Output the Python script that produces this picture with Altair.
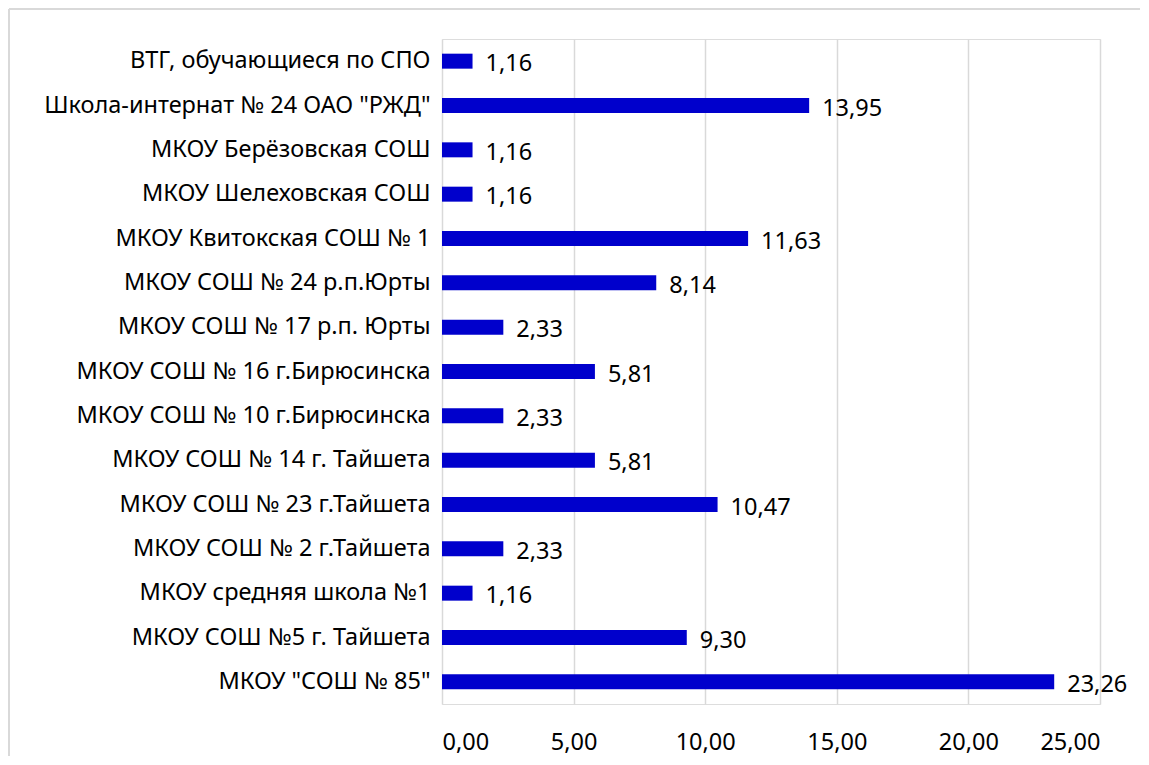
import altair as alt
import pandas as pd

schools = [
    "ВТГ, обучающиеся по СПО",
    "Школа-интернат № 24 ОАО \"РЖД\"",
    "МКОУ Берёзовская СОШ",
    "МКОУ Шелеховская СОШ",
    "МКОУ Квитокская СОШ № 1",
    "МКОУ СОШ № 24 р.п.Юрты",
    "МКОУ СОШ № 17 р.п. Юрты",
    "МКОУ СОШ № 16 г.Бирюсинска",
    "МКОУ СОШ № 10 г.Бирюсинска",
    "МКОУ СОШ № 14 г. Тайшета",
    "МКОУ СОШ № 23 г.Тайшета",
    "МКОУ СОШ № 2 г.Тайшета",
    "МКОУ средняя школа №1",
    "МКОУ СОШ №5 г. Тайшета",
    "МКОУ \"СОШ № 85\"",
]
values = [1.16, 13.95, 1.16, 1.16, 11.63, 8.14, 2.33, 5.81, 2.33, 5.81, 10.47, 2.33, 1.16, 9.30, 23.26]
x_ticks = [0, 5, 10, 15, 20, 25]

df = pd.DataFrame({"school": schools, "value": values})

FONT = "Noto Sans, sans-serif"
FS = 23.5
BLUE = "#0000CC"
GRID = "#d9d9d9"

y_enc = alt.Y(
    "school:N",
    sort=None,
    title=None,
    scale=alt.Scale(paddingInner=0.662, paddingOuter=0.331),
    axis=alt.Axis(
        domain=False, ticks=False, labelPadding=12, labelFontSize=FS,
        labelFont=FONT, labelColor="#000000", labelLimit=500,
    ),
)
x_enc = alt.X(
    "value:Q",
    title=None,
    scale=alt.Scale(domain=[0, 25], nice=False),
    axis=alt.Axis(
        values=x_ticks, domain=False, ticks=False, grid=True,
        gridColor=GRID, gridWidth=1.5, labelPadding=26, labelFontSize=FS,
        labelFont=FONT, labelColor="#000000",
        labelExpr="replace(format(datum.value, '.2f'), '.', ',')",
    ),
)

bars = alt.Chart(df).mark_bar(color=BLUE).encode(x=x_enc, y=y_enc)

labels = alt.Chart(df).transform_calculate(
    lab="replace(format(datum.value, '.2f'), '.', ',')"
).mark_text(
    align="left", baseline="middle", dx=13, dy=3, fontSize=FS, font=FONT, color="#000000"
).encode(x="value:Q", y=alt.Y("school:N", sort=None), text="lab:N")

# chart-area border (decoration, like the spreadsheet chart frame)
border_left = alt.Chart(df).mark_rule(color=GRID, strokeWidth=1.5).encode(
    x=alt.value(-433), y=alt.value(-30), y2=alt.value(760)
)
border_top = alt.Chart(df).mark_rule(color=GRID, strokeWidth=1.5).encode(
    x=alt.value(-433), x2=alt.value(720), y=alt.value(-30)
)

chart = alt.layer(border_left, border_top, bars, labels).properties(
    width=658, height=665,
    autosize=alt.AutoSizeParams(type="none"),
    padding={"left": 434, "top": 31, "right": 40, "bottom": 52},
).configure_view(stroke=None).configure(background="white")

chart.save("out.html", embed_options={"renderer": "svg", "actions": False})
